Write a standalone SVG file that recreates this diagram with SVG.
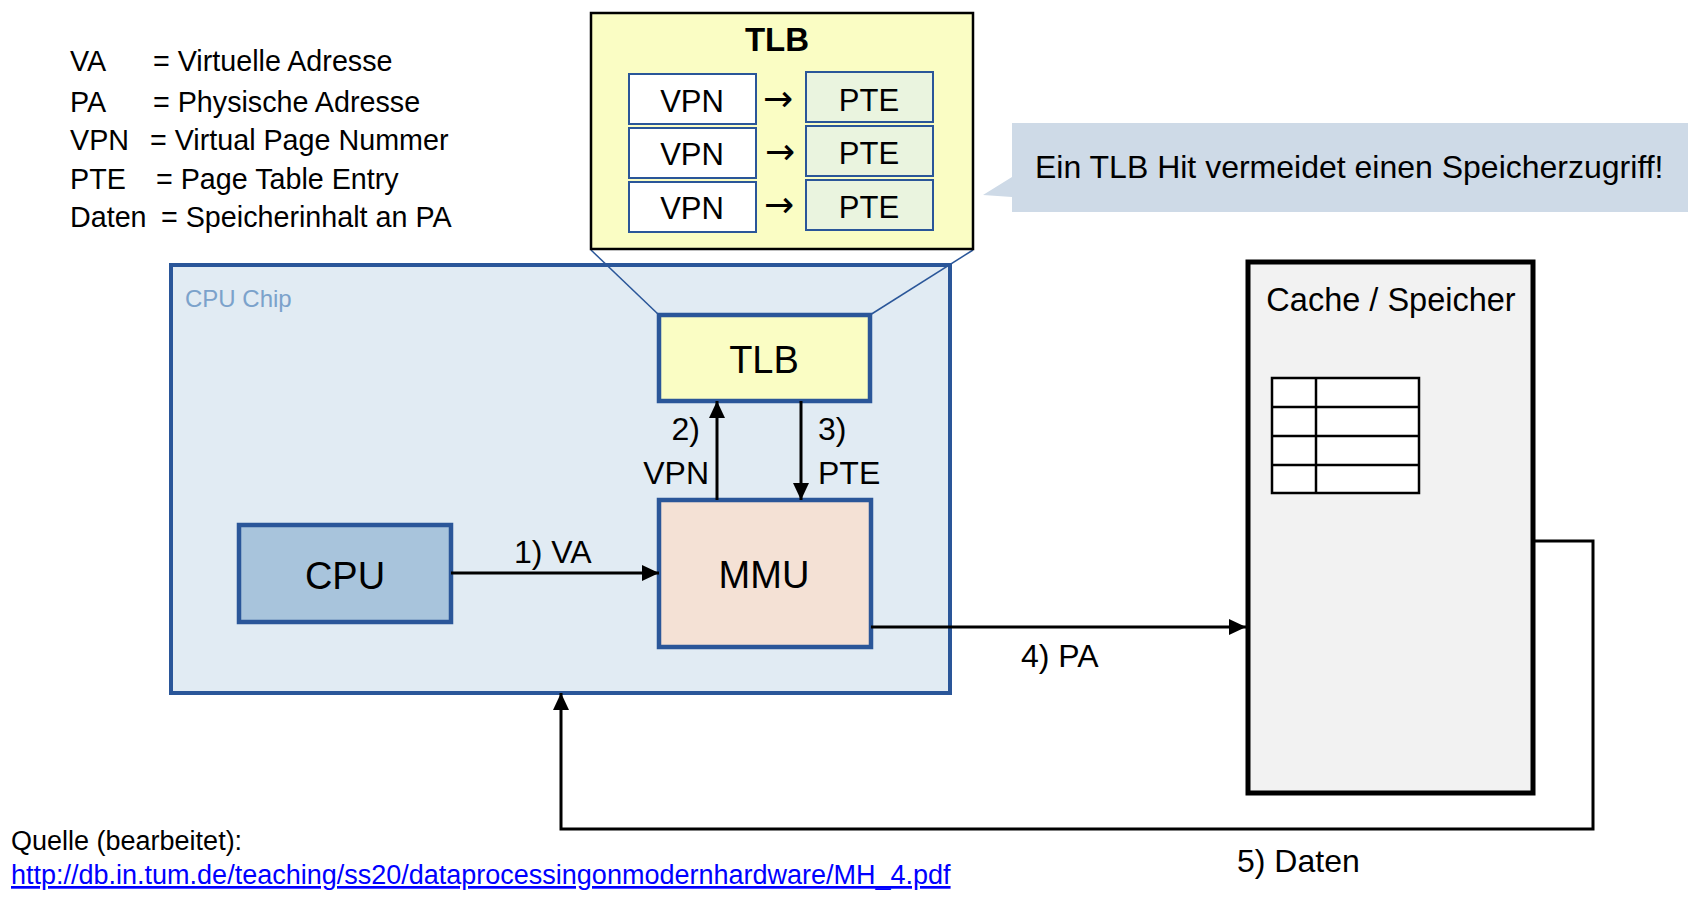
<svg xmlns="http://www.w3.org/2000/svg" width="1708" height="908" viewBox="0 0 1708 908">
<defs>
<style>
text{font-family:"Liberation Sans",Arial,sans-serif;fill:#000}
.leg{font-size:28.7px}
.step{font-size:32px}
.cell{font-size:31px;text-anchor:middle}
.arr{font-family:"DejaVu Sans",sans-serif;font-size:36px;text-anchor:middle}
.conn{stroke:#000;stroke-width:3;fill:none}
</style>
<marker id="ah" markerUnits="userSpaceOnUse" markerWidth="18" markerHeight="16" refX="17" refY="8" orient="auto">
<path d="M0,0 L17,8 L0,16 Z" fill="#000"/>
</marker>
</defs>
<rect width="1708" height="908" fill="#fff"/>

<g id="legend">
<text class="leg" y="71"><tspan x="70">VA</tspan><tspan x="153">= Virtuelle Adresse</tspan></text>
<text class="leg" y="112"><tspan x="70">PA</tspan><tspan x="153">= Physische Adresse</tspan></text>
<text class="leg" y="150"><tspan x="70">VPN</tspan><tspan x="150">= Virtual Page Nummer</tspan></text>
<text class="leg" y="189"><tspan x="70">PTE</tspan><tspan x="156">= Page Table Entry</tspan></text>
<text class="leg" y="227"><tspan x="70">Daten</tspan><tspan x="161">= Speicherinhalt an PA</tspan></text>
</g>

<g id="cpu-chip">
<rect x="171" y="265" width="779" height="428" fill="#E1EBF3" stroke="#2A5699" stroke-width="4"/>
<text x="185" y="307" font-size="24" style="fill:#7BA2CB">CPU Chip</text>
</g>

<g id="tlb-zoom-lines">
<line x1="591" y1="250" x2="659" y2="315" stroke="#2A5699" stroke-width="1.5"/>
<line x1="973" y1="250" x2="870" y2="315" stroke="#2A5699" stroke-width="1.5"/>
</g>

<g id="tlb-detail">
<rect x="591" y="13" width="382" height="236" fill="#FAFDC4" stroke="#000" stroke-width="2.5"/>
<text x="777" y="51" font-size="33" font-weight="bold" text-anchor="middle">TLB</text>
<rect x="629" y="74" width="127" height="50" fill="#fff" stroke="#2A5699" stroke-width="2"/>
<rect x="629" y="128" width="127" height="50" fill="#fff" stroke="#2A5699" stroke-width="2"/>
<rect x="629" y="182" width="127" height="50" fill="#fff" stroke="#2A5699" stroke-width="2"/>
<rect x="806" y="72" width="127" height="50" fill="#EAF4DF" stroke="#2A5699" stroke-width="2"/>
<rect x="806" y="126" width="127" height="50" fill="#EAF4DF" stroke="#2A5699" stroke-width="2"/>
<rect x="806" y="180" width="127" height="50" fill="#EAF4DF" stroke="#2A5699" stroke-width="2"/>
<text class="cell" x="692" y="112">VPN</text>
<text class="cell" x="692" y="165">VPN</text>
<text class="cell" x="692" y="219">VPN</text>
<text class="cell" x="869" y="111">PTE</text>
<text class="cell" x="869" y="164">PTE</text>
<text class="cell" x="869" y="218">PTE</text>
<text class="arr" x="778" y="111">→</text>
<text class="arr" x="780" y="164">→</text>
<text class="arr" x="779" y="217">→</text>
</g>

<g id="callout">
<path d="M1012,123 H1688 V212 H1012 V197 L983,195 L1012,177 Z" fill="#CEDAE7"/>
<text x="1035" y="178" font-size="32">Ein TLB Hit vermeidet einen Speicherzugriff!</text>
</g>

<g id="tlb">
<rect x="659" y="315" width="211" height="86" fill="#FAFDC4" stroke="#2A5699" stroke-width="4.5"/>
<text x="764" y="373" font-size="38" text-anchor="middle">TLB</text>
</g>

<g id="mmu">
<rect x="659" y="500" width="212" height="147" fill="#F4E1D5" stroke="#2A5699" stroke-width="4.5"/>
<text x="764" y="588" font-size="38" text-anchor="middle">MMU</text>
</g>

<g id="cpu">
<rect x="239" y="525" width="212" height="97" fill="#A8C4DC" stroke="#2A5699" stroke-width="4.5"/>
<text x="345" y="589" font-size="38" text-anchor="middle">CPU</text>
</g>

<g id="cache">
<rect x="1248" y="262" width="285" height="531" fill="#F2F2F2" stroke="#000" stroke-width="5"/>
<text x="1391" y="311" font-size="32.5" text-anchor="middle">Cache / Speicher</text>
<rect x="1272" y="378" width="147" height="115" fill="#fff" stroke="#000" stroke-width="2.5"/>
<line x1="1316" y1="378" x2="1316" y2="493" stroke="#000" stroke-width="2.5"/>
<line x1="1272" y1="407" x2="1419" y2="407" stroke="#000" stroke-width="2.5"/>
<line x1="1272" y1="436" x2="1419" y2="436" stroke="#000" stroke-width="2.5"/>
<line x1="1272" y1="465" x2="1419" y2="465" stroke="#000" stroke-width="2.5"/>
</g>

<g id="connectors">
<line class="conn" x1="451" y1="573" x2="659" y2="573" marker-end="url(#ah)"/>
<line class="conn" x1="717" y1="500" x2="717" y2="401" marker-end="url(#ah)"/>
<line class="conn" x1="801" y1="401" x2="801" y2="500" marker-end="url(#ah)"/>
<line class="conn" x1="871" y1="627" x2="1246" y2="627" marker-end="url(#ah)"/>
<polyline class="conn" points="1533,541 1593,541 1593,829 561,829 561,693" marker-end="url(#ah)"/>
</g>

<g id="labels">
<text class="step" x="514" y="563">1) VA</text>
<text class="step" x="700" y="440" text-anchor="end">2)</text>
<text class="step" x="709" y="484" text-anchor="end">VPN</text>
<text class="step" x="818" y="440">3)</text>
<text class="step" x="818" y="484">PTE</text>
<text class="step" x="1021" y="667">4) PA</text>
<text class="step" x="1237" y="872">5) Daten</text>
</g>

<g id="source">
<text x="11" y="850" font-size="27">Quelle (bearbeitet):</text>
<text x="11" y="884" font-size="27" style="fill:#0000FF" text-decoration="underline">http://db.in.tum.de/teaching/ss20/dataprocessingonmodernhardware/MH_4.pdf</text>
</g>
</svg>
